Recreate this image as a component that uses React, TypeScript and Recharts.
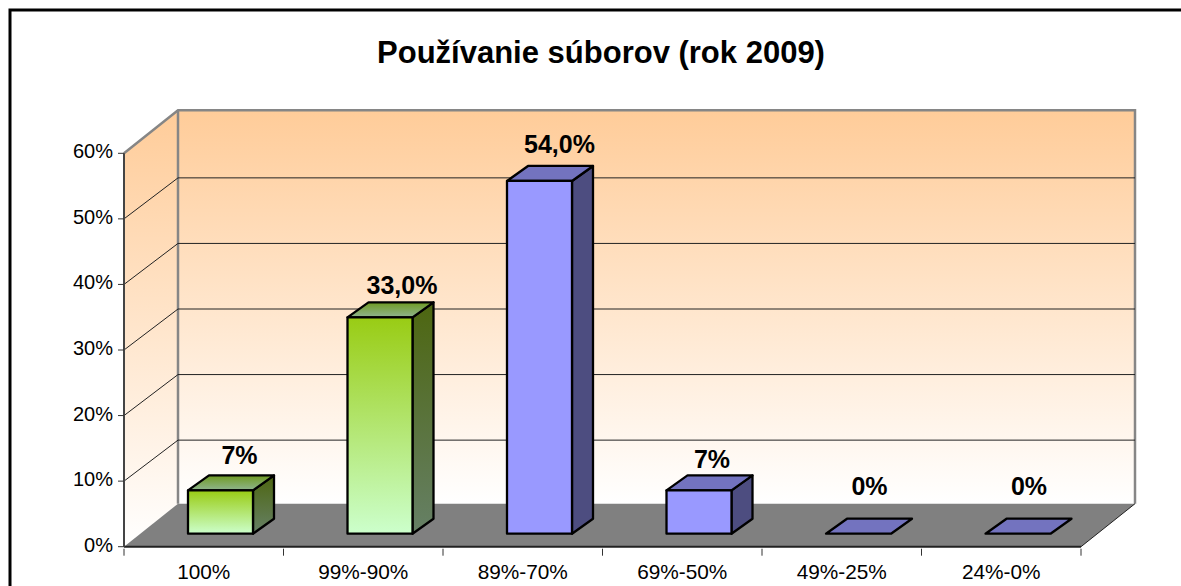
import React from 'react';
import { BarChart, Bar, XAxis, YAxis, CartesianGrid, LabelList, usePlotArea } from 'recharts';

const categories = ['100%', '99%-90%', '89%-70%', '69%-50%', '49%-25%', '24%-0%'];
const shares = [6.6, 33, 53.8, 6.6, 0, 0];
const shareLabels = ['7%', '33,0%', '54,0%', '7%', '0%', '0%'];
const barKinds = ['green', 'green', 'blue', 'blue', 'blue', 'blue'];
const valueTicks = [0, 10, 20, 30, 40, 50, 60];

const rows = categories.map((category, i) => ({
  category,
  share: shares[i],
  label: shareLabels[i],
  kind: barKinds[i],
}));

const FONT = '"Liberation Sans", Arial, sans-serif';
const WALL_DX = 54;
const WALL_DY = 43;
const GRID_DY = 41;
const BAR_DX = 17;
const BAR_DY = 13;
const DEPTH_X = 21;
const DEPTH_Y = 15;
const BAND = 957 / categories.length;

// the original's data labels are hand placed, so each gets a small nudge
const labelNudgeX = [-1, 2, 0, -7, -9, -9];
const labelNudgeY = [-2, 1, -4, 2, -15, -15];

function Walls() {
  const plot = usePlotArea();
  if (!plot) return null;
  const { x, y, width, height } = plot;
  const left = x;
  const right = x + width;
  const top = y;
  const bottom = y + height;
  return (
    <g>
      <polygon
        points={`${left},${top} ${left + WALL_DX},${top - WALL_DY} ${left + WALL_DX},${bottom - WALL_DY} ${left},${bottom}`}
        fill="url(#wallFill)"
      />
      <rect x={left + WALL_DX} y={top - WALL_DY} width={width} height={height} fill="url(#wallFill)" />
      <polygon
        points={`${left},${bottom} ${left + WALL_DX},${bottom - WALL_DY} ${right + WALL_DX},${bottom - WALL_DY} ${right},${bottom}`}
        fill="#808080"
      />
      <polyline
        points={`${left},${top} ${left + WALL_DX},${top - WALL_DY} ${right + WALL_DX},${top - WALL_DY} ${right + WALL_DX},${bottom - WALL_DY}`}
        fill="none"
        stroke="#868686"
        strokeWidth={2.5}
      />
      <line x1={left + WALL_DX} y1={top - WALL_DY} x2={left + WALL_DX} y2={bottom - WALL_DY} stroke="#868686" strokeWidth={2.5} />
      <line x1={right} y1={bottom} x2={right + WALL_DX} y2={bottom - WALL_DY} stroke="#222" strokeWidth={1} />
    </g>
  );
}

// grid line runs up the side wall, then along the back wall
const gridLine = (props: any) => {
  const { x1, x2, y1 } = props;
  if (y1 < 160 || y1 > 540) return <g key={props.key} />;
  return (
    <polyline
      key={props.key}
      points={`${x1},${y1} ${x1 + WALL_DX},${y1 - GRID_DY} ${x2 + WALL_DX},${y1 - GRID_DY}`}
      fill="none"
      stroke="#222"
      strokeWidth={1}
    />
  );
};

const Bar3D = (props: any) => {
  const { x, y, width, height, kind } = props;
  const l = x + BAR_DX;
  const r = l + width;
  const t = y - BAR_DY;
  const b = t + height;
  const green = kind === 'green';
  return (
    <g stroke="#000" strokeWidth={2.3} strokeLinejoin="round">
      {height > 0 && (
        <polygon
          points={`${r},${t} ${r + DEPTH_X},${t - DEPTH_Y} ${r + DEPTH_X},${b - DEPTH_Y} ${r},${b}`}
          fill={green ? 'url(#greenSide)' : '#4D4D80'}
        />
      )}
      <polygon
        points={`${l},${t} ${l + DEPTH_X},${t - DEPTH_Y} ${r + DEPTH_X},${t - DEPTH_Y} ${r},${t}`}
        fill={green ? 'url(#greenTop)' : '#7373BF'}
      />
      {height > 0 && <rect x={l} y={t} width={width} height={height} fill={green ? 'url(#greenFront)' : '#9999FF'} />}
    </g>
  );
};

const barLabel = (props: any) => {
  const { x, y, width, value, index } = props;
  return (
    <text
      x={x + width / 2 + BAR_DX + 20 + labelNudgeX[index]}
      y={y - BAR_DY - 24 + labelNudgeY[index]}
      textAnchor="middle"
      fontFamily={FONT}
      fontWeight="bold"
      fontSize={25}
      fill="#000"
    >
      {value}
    </text>
  );
};

// ticks sit on the category boundaries, labels between them
const CategoryTick = (props: any) => {
  const { x, y, index, payload } = props;
  const edge = x - BAND / 2;
  return (
    <g>
      <line x1={edge} y1={y - 6} x2={edge} y2={y + 1} stroke="#333" />
      {index === categories.length - 1 && <line x1={edge + BAND} y1={y - 6} x2={edge + BAND} y2={y + 1} stroke="#333" />}
      <text x={x} y={y + 24} textAnchor="middle" fontFamily={FONT} fontSize={20.8} fill="#000">
        {payload.value}
      </text>
    </g>
  );
};

const ValueTick = (props: any) => {
  const { x, y, payload } = props;
  return (
    <text x={x} y={y + 5} textAnchor="end" fontFamily={FONT} fontSize={20} fill="#000">
      {`${payload.value}%`}
    </text>
  );
};

export default function App() {
  return (
    <div style={{ position: 'absolute', left: 0, top: 0, width: 1181, height: 586, background: '#fff' }}>
      <BarChart
        width={1181}
        height={586}
        data={rows}
        margin={{ top: 153.3, right: 100, bottom: 0, left: 0 }}
        barSize={65}
      >
        <defs>
          <linearGradient id="wallFill" x1="0" y1="0" x2="0" y2="1">
            <stop offset="0%" stopColor="#FFCC99" />
            <stop offset="100%" stopColor="#FFFFFF" />
          </linearGradient>
          <linearGradient id="greenFront" x1="0" y1="0" x2="0" y2="1">
            <stop offset="0%" stopColor="#99CC14" />
            <stop offset="100%" stopColor="#CCFFCC" />
          </linearGradient>
          <linearGradient id="greenTop" x1="0" y1="0" x2="0" y2="1">
            <stop offset="0%" stopColor="#6F9A22" />
            <stop offset="100%" stopColor="#8FB58F" />
          </linearGradient>
          <linearGradient id="greenSide" x1="0" y1="0" x2="0" y2="1">
            <stop offset="0%" stopColor="#4D6610" />
            <stop offset="100%" stopColor="#668066" />
          </linearGradient>
        </defs>
        <rect x={10} y={10} width={1300} height={700} fill="#fff" stroke="#000" strokeWidth={3} />
        <text x={601} y={63} textAnchor="middle" fontFamily={FONT} fontWeight="bold" fontSize={31} fill="#000">
          Používanie súborov (rok 2009)
        </text>
        <Walls />
        <CartesianGrid vertical={false} horizontal={gridLine} zIndex={1} />
        <XAxis
          dataKey="category"
          interval={0}
          height={39.3}
          axisLine={{ stroke: '#222', strokeWidth: 2 }}
          tickLine={false}
          tickSize={6}
          tick={CategoryTick}
        />
        <YAxis
          domain={[0, 60]}
          ticks={valueTicks}
          width={124}
          axisLine={{ stroke: '#444', strokeWidth: 2 }}
          tickLine={{ stroke: '#333', strokeWidth: 1 }}
          tickSize={6}
          tickMargin={5}
          tick={ValueTick}
        />
        <Bar dataKey="share" isAnimationActive={false} shape={Bar3D}>
          <LabelList dataKey="label" content={barLabel} />
        </Bar>
      </BarChart>
    </div>
  );
}
